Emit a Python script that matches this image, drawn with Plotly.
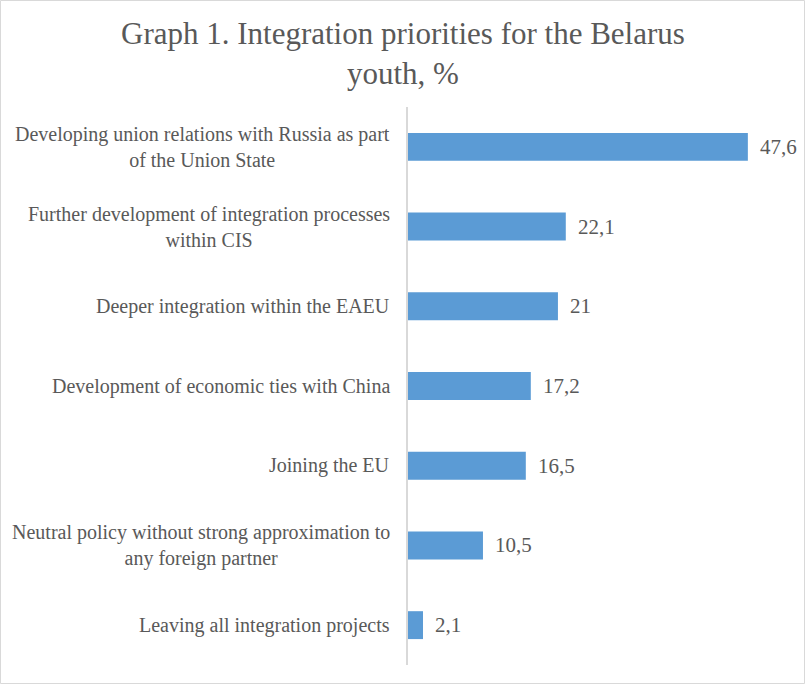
import plotly.graph_objects as go

categories = [
    "Developing union relations with Russia as part<br>of the Union State",
    "Further development of integration processes<br>within CIS",
    "Deeper integration within the EAEU",
    "Development of economic ties with China",
    "Joining the EU",
    "Neutral policy without strong approximation to<br>any foreign partner",
    "Leaving all integration projects",
]
values = [47.6, 22.1, 21.0, 17.2, 16.5, 10.5, 2.1]
value_labels = ["47,6", "22,1", "21", "17,2", "16,5", "10,5", "2,1"]
title_text = "Graph 1. Integration priorities for the Belarus<br>youth, %"

W, H = 805, 684
L, R, T, B = 408, 40, 107, 19
pw, ph = W - L - R, H - T - B

FONT = "Liberation Serif, Times New Roman, serif"
GREY = "#595959"

fig = go.Figure()
fig.add_trace(go.Bar(
    x=values, y=categories, orientation="h",
    marker=dict(color="#5B9BD5", line=dict(width=0)),
    width=0.35, hoverinfo="skip",
))

annotations = []
for c in categories:
    annotations.append(dict(
        x=0, y=c, xref="paper", yref="y", xanchor="right", yanchor="middle",
        xshift=-16, text=c, showarrow=False, align="center",
        font=dict(family=FONT, size=20, color=GREY),
    ))
for c, v, t in zip(categories, values, value_labels):
    annotations.append(dict(
        x=v, y=c, xref="x", yref="y", xanchor="left", yanchor="middle",
        xshift=10, text=t, showarrow=False,
        font=dict(family=FONT, size=21, color=GREY),
    ))
# title
annotations.append(dict(
    x=(W / 2 - L) / pw, y=(H - B - 54) / ph, xref="paper", yref="paper",
    xanchor="center", yanchor="middle", text=title_text, showarrow=False,
    align="center", font=dict(family=FONT, size=31, color=GREY),
))

fig.update_layout(
    width=W, height=H,
    margin=dict(l=L, r=R, t=T, b=B),
    paper_bgcolor="white", plot_bgcolor="white",
    showlegend=False,
    xaxis=dict(range=[0, 50], visible=False, fixedrange=True),
    yaxis=dict(
        autorange="reversed", showticklabels=False, showgrid=False,
        showline=True, linecolor="#D9D9D9", linewidth=2, zeroline=False,
        ticks="", fixedrange=True,
    ),
    annotations=annotations,
    shapes=[dict(
        type="rect", xref="paper", yref="paper",
        x0=(0.5 - L) / pw, x1=(W - 0.5 - L) / pw,
        y0=(-B + 0.5) / ph, y1=(H - B - 0.5) / ph,
        line=dict(color="#D9D9D9", width=1), fillcolor="rgba(0,0,0,0)",
        layer="below",
    )],
)

fig.write_html("out.html")
